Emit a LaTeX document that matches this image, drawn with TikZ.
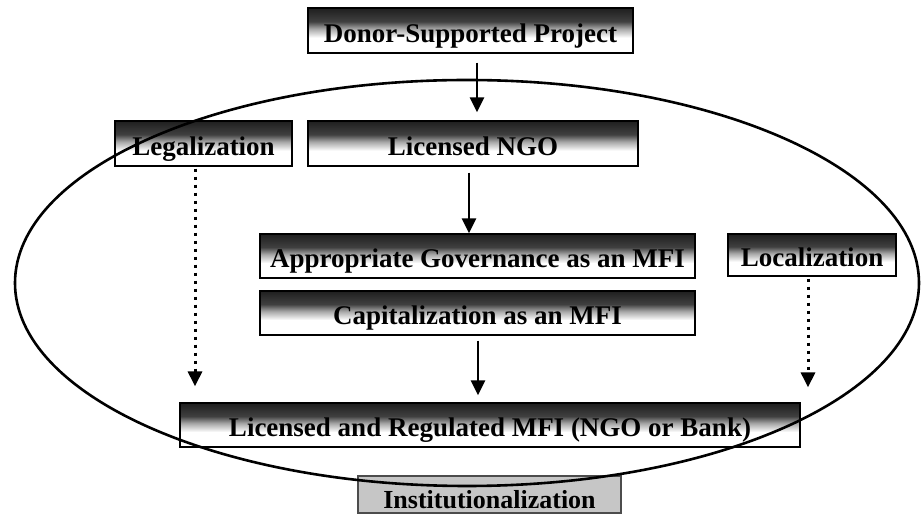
\documentclass[tikz,border=0pt]{standalone}
\usepackage{fontspec}
\setmainfont{Liberation Serif}
\usepackage{tikz}
\usetikzlibrary{arrows.meta}
\pgfdeclareverticalshading{fadebox}{100bp}{color(0bp)=(white); color(25bp)=(white); color(42bp)=(white); color(52bp)=(black!35); color(60bp)=(black!75); color(75bp)=(black!88); color(100bp)=(black!88)}
\tikzstyle{stage} = [rectangle, draw=black, line width=1.2pt, shading=fadebox, inner sep=0pt, text height=24pt, text depth=0pt, font=\bfseries\fontsize{27}{30}\selectfont]
\tikzstyle{outcome} = [rectangle, draw=black!70, line width=1.2pt, fill=gray!45, inner sep=0pt, text height=28pt, text depth=0pt, font=\bfseries\fontsize{26}{30}\selectfont]
\tikzstyle{arrow} = [line width=2.6pt, -{Triangle[length=15pt,width=14pt]}]
\tikzstyle{dotarrow} = [arrow, line width=3pt, dash pattern=on 3.5pt off 4.5pt]

\begin{document}
\begin{tikzpicture}[x=1pt, y=1pt]
			\useasboundingbox (0,0) rectangle (922,514);
			\node (donor) [stage, minimum width=325pt, minimum height=45pt] at (470.5,483.5) {Donor-Supported Project};
			\node (legal) [stage, minimum width=177pt, minimum height=45pt] at (203.5,370.5) {Legalization};
			\node (ngo) [stage, minimum width=330pt, minimum height=45pt] at (473,370.5) {Licensed NGO};
			\node (gov) [stage, minimum width=435pt, minimum height=44pt] at (477.5,258) {Appropriate Governance as an MFI};
			\node (local) [stage, minimum width=168pt, minimum height=42pt] at (812,259) {Localization};
			\node (capital) [stage, minimum width=435pt, minimum height=44pt] at (477.5,201) {Capitalization as an MFI};
			\node (mfi) [stage, minimum width=620pt, minimum height=44pt] at (490,89) {Licensed and Regulated MFI (NGO or Bank)};
			\node (inst) [outcome, minimum width=263pt, minimum height=37pt] at (489.5,19.5) {Institutionalization};
			
			\draw [line width=2.6pt] (467,231) ellipse [x radius=452pt, y radius=203pt];
			
			\draw [arrow, shorten <=9pt, shorten >=8pt] ([xshift=6.5pt]donor.south) -- ([xshift=4pt]ngo.north);
			\draw [arrow, shorten <=6pt] ([xshift=-4pt]ngo.south) -- ([xshift=-8.5pt]gov.north);
			\draw [arrow, shorten <=5pt, shorten >=7pt] ([xshift=0.5pt]capital.south) -- ([xshift=-12pt]mfi.north);
			\draw [dotarrow, shorten <=2pt, shorten >=16pt] ([xshift=-8.5pt]legal.south) -- ([xshift=-8.5pt]legal.south |- mfi.north);
			\draw [dotarrow, shorten <=2pt, shorten >=15pt] ([xshift=-4pt]local.south) -- ([xshift=-4pt]local.south |- mfi.north);
			\end{tikzpicture}
\end{document}
